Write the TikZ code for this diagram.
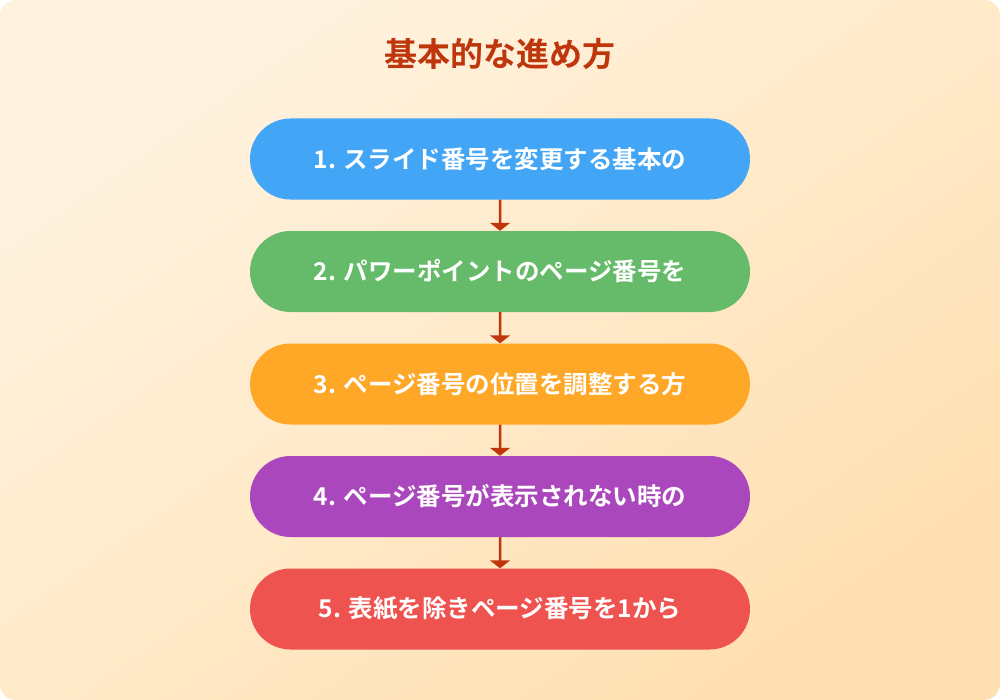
\documentclass[tikz,border=0pt]{standalone}
\usepackage{fontspec}
\newfontfamily\cjk{Noto Sans CJK JP}[BoldFont={Noto Sans CJK JP Bold}]
\usetikzlibrary{arrows.meta,shapes.misc}
\definecolor{bgA}{HTML}{FFF3E0}
\definecolor{bgB}{HTML}{FFE0B2}
\definecolor{titlec}{HTML}{BF360C}
\definecolor{arrowc}{HTML}{BF360C}
\definecolor{c1}{HTML}{42A5F5}
\definecolor{c2}{HTML}{66BB6A}
\definecolor{c3}{HTML}{FFA726}
\definecolor{c4}{HTML}{AB47BC}
\definecolor{c5}{HTML}{EF5350}
\tikzset{
  stepbox/.style={rounded rectangle, minimum width=500bp, minimum height=81bp, inner sep=0pt,
    text=white, font=\cjk\bfseries\fontsize{24.5bp}{28bp}\selectfont},
  flow/.style={draw=arrowc, line width=2.5bp, -{Triangle[width=20bp,length=8bp]}, shorten >=0bp}
}
\begin{document}
\begin{tikzpicture}[x=1bp,y=-1bp]
\useasboundingbox (0,0) rectangle (1000,700);
\shade[top color=bgA, bottom color=bgB, shading angle=35, rounded corners=16bp] (0,0) rectangle (1000,700);
\node[text=titlec, font=\cjk\bfseries\fontsize{33bp}{38bp}\selectfont] (title) at (500,54) {基本的な進め方};
\node[stepbox, fill=c1] (s1) at (500,159) {1. スライド番号を変更する基本の};
\node[stepbox, fill=c2] (s2) at (500,271.5) {2. パワーポイントのページ番号を};
\node[stepbox, fill=c3] (s3) at (500,384) {3. ページ番号の位置を調整する方};
\node[stepbox, fill=c4] (s4) at (500,496.5) {4. ページ番号が表示されない時の};
\node[stepbox, fill=c5] (s5) at (500,609) {5. 表紙を除きページ番号を1から};
\draw[flow] (s1) -- (s2);
\draw[flow] (s2) -- (s3);
\draw[flow] (s3) -- (s4);
\draw[flow] (s4) -- (s5);
\end{tikzpicture}
\end{document}
